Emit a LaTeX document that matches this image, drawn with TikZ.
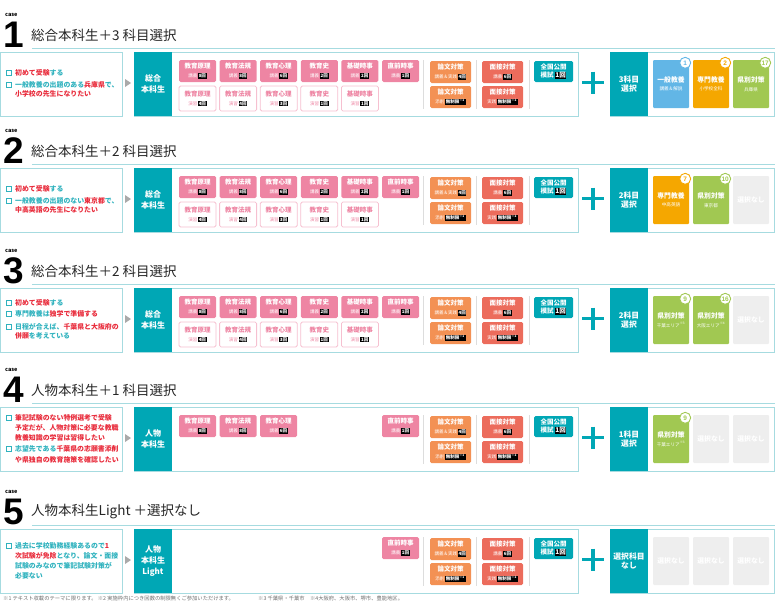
\documentclass[tikz,border=0pt]{standalone}
\usepackage{fontspec}
\setmainfont{Noto Sans CJK JP}
\newfontfamily\numfont{Liberation Sans}
\usetikzlibrary{calc}

\definecolor{brandteal}{RGB}{0,167,181}
\definecolor{lineteal}{RGB}{166,219,224}
\definecolor{pinkc}{RGB}{238,133,163}
\definecolor{palepink}{RGB}{246,192,208}
\definecolor{essayc}{RGB}{243,145,84}
\definecolor{talkc}{RGB}{236,108,92}
\definecolor{bluec}{RGB}{98,182,230}
\definecolor{goldc}{RGB}{245,167,0}
\definecolor{greenc}{RGB}{161,200,82}
\definecolor{nonec}{RGB}{238,238,238}
\definecolor{redc}{RGB}{232,42,58}
\definecolor{tealtxt}{RGB}{48,178,190}
\definecolor{tipgray}{RGB}{170,170,170}
\definecolor{sepgray}{RGB}{221,221,221}
\definecolor{notegray}{RGB}{110,110,110}

\setlength{\fboxsep}{0.7pt}
\newcommand{\cnt}[1]{\colorbox{black}{\textcolor{white}{\bfseries #1}}}
\newcommand{\subline}[2]{{\mdseries\fontsize{4.5}{5}\selectfont #1\,\cnt{#2}}}
\newcommand{\rd}[1]{\textcolor{redc}{#1}}

\tikzset{
  boxframe/.style={draw=lineteal, line width=1pt},
  panel/.style={fill=brandteal, text=white, minimum width=38pt, minimum height=64pt, inner sep=0pt, align=center, font=\bfseries\fontsize{8}{11}\selectfont},
  pickpanel/.style={panel, font=\bfseries\fontsize{7.8}{9.5}\selectfont},
  lec/.style={fill=pinkc, text=white, rounded corners=1.5pt, minimum width=37pt, minimum height=22pt, inner sep=0pt, align=center, font=\bfseries\fontsize{6.5}{9}\selectfont},
  prac/.style={lec, fill=white, draw=palepink, line width=0.8pt, text=pinkc, minimum height=25pt},
  essay/.style={lec, fill=essayc, minimum width=41pt},
  talk/.style={lec, fill=talkc, minimum width=41pt},
  mock/.style={lec, fill=brandteal, minimum width=39pt, minimum height=21pt, font=\bfseries\fontsize{6.5}{8}\selectfont},
  subj/.style={rounded corners=1pt, text=white, minimum width=36pt, minimum height=48pt, inner sep=0pt, align=center, font=\bfseries\fontsize{6.8}{8.5}\selectfont},
  numc/.style={circle, fill=white, draw=#1, text=#1, line width=0.9pt, minimum size=11pt, inner sep=0pt, font=\numfont\bfseries\fontsize{6.5}{6.5}\selectfont},
  plusbar/.style={draw=brandteal, line width=3.6pt},
  sepline/.style={draw=sepgray, line width=0.8pt},
  headline/.style={draw=lineteal, line width=1pt},
  casetag/.style={anchor=west, inner sep=0pt, font=\bfseries\fontsize{5.5}{6}\selectfont},
  casenum/.style={anchor=base west, inner sep=0pt, font=\numfont\bfseries\fontsize{37}{37}\selectfont},
  casetitle/.style={anchor=west, inner sep=0pt, text=black!85, font=\fontsize{13.5}{14}\selectfont},
  chk/.style={draw=tealtxt, line width=0.6pt},
  lefttxt/.style={anchor=west, inner sep=0pt, text=tealtxt, font=\bfseries\fontsize{6.9}{8}\selectfont},
  note/.style={anchor=west, inner sep=0pt, text=notegray, font=\fontsize{5.3}{6}\selectfont}
}

% heading of one case: digit, title
\newcommand{\casehead}[2]{%
  \node[casetag] (tag) at (5,-37) {case};
  \node[casenum] (num) at (3,-5) {#1};
  \node[casetitle] (title) at (31,-17) {#2};
  \draw[headline] (32,-4) -- (775,-4);
}
% frames, shared items, plus sign; #1 course, #2 choice
\newcommand{\caseframe}[2]{%
  \draw[boxframe] (0.5,0) rectangle (122,64);
  \fill[tipgray] (125,27) -- (131,31) -- (125,35) -- cycle;
  \draw[boxframe] (134,0) rectangle (578,64);
  \node[panel] (course) at (153,32) {#1};
  \foreach \x in {423,476,529} \draw[sepline] (\x,8) -- (\x,57);
  \node[lec] (just) at (400.5,19) {直前時事\\\subline{講義}{1回}};
  \node[essay] (ess1) at (450.5,20) {論文対策\\\subline{講義＆実践}{4回}};
  \node[essay] (ess2) at (450.5,45) {論文対策\\\subline{添削}{無制限\textsuperscript{※1}}};
  \node[talk] (int1) at (502.5,20) {面接対策\\\subline{講義}{6回}};
  \node[talk] (int2) at (502.5,45) {面接対策\\\subline{実践}{無制限\textsuperscript{※2}}};
  \node[mock] (mock) at (553.5,19.5) {全国公開\\模試\,\cnt{1回}};
  \draw[plusbar] (582,30.5) -- (604,30.5) (593,19.5) -- (593,41.5);
  \draw[boxframe] (610,0) rectangle (774,64);
  \node[pickpanel] (pick) at (629,32) {#2};
}
\newcommand{\lecrow}[1]{%
  \foreach \nm/\cnum [count=\i from 0] in {#1}
    \node[lec] (lec\i) at (197.5+40.6*\i,19) {\nm\\\subline{講義}{\cnum{}回}};
}
\newcommand{\pracrow}{%
  \foreach \nm/\cnum [count=\i from 0] in {教育原理/4,教育法規/4,教育心理/3,教育史/1,基礎時事/1}
    \node[prac] (prac\i) at (197.5+40.6*\i,46.5) {\nm\\\subline{演習}{\cnum{}回}};
}
\newcommand{\subject}[5]{%
  \node[subj, fill=#2] (s#1) at (#1,32) {#3\\{\mdseries\fontsize{4.6}{5}\selectfont #4}};
  \node[numc=#2] (n#1) at ($(s#1.north east)+(-4,3)$) {#5};
}
\newcommand{\nochoice}[1]{\node[subj, fill=nonec] (s#1) at (#1,32) {選択なし};}
\newcommand{\want}[2]{%
  \draw[chk] (6,#1-2.6) rectangle (11,#1+2.6);
  \node[lefttxt] (w#1) at (15,#1) {#2};
}
\newcommand{\wantmore}[2]{\node[lefttxt] (w#1) at (15,#1) {#2};}

\begin{document}
\begin{tikzpicture}[x=1pt, y=-1pt]
\useasboundingbox (0,0) rectangle (775,605);

% case 1
\begin{scope}[shift={(0,52)}]
  \casehead{1}{総合本科生＋3 科目選択}
  \caseframe{総合\\本科生}{3科目\\選択}
  \lecrow{教育原理/8,教育法規/8,教育心理/6,教育史/2,基礎時事/2}
  \pracrow
  \want{21}{\rd{初めて受験}する}
  \want{33}{一般教養の出題のある\rd{兵庫県}で、}
  \wantmore{42}{\rd{小学校の先生になりたい}}
  \subject{671}{bluec}{一般教養}{講義＆解説}{1}
  \subject{711}{goldc}{専門教養}{小学校全科}{2}
  \subject{751}{greenc}{県別対策}{兵庫県}{17}
\end{scope}

% case 2
\begin{scope}[shift={(0,168)}]
  \casehead{2}{総合本科生＋2 科目選択}
  \caseframe{総合\\本科生}{2科目\\選択}
  \lecrow{教育原理/8,教育法規/8,教育心理/6,教育史/2,基礎時事/2}
  \pracrow
  \want{21}{\rd{初めて受験}する}
  \want{33}{一般教養の出題のない\rd{東京都}で、}
  \wantmore{42}{\rd{中高英語の先生になりたい}}
  \subject{671}{goldc}{専門教養}{中高英語}{7}
  \subject{711}{greenc}{県別対策}{東京都}{10}
  \nochoice{751}
\end{scope}

% case 3
\begin{scope}[shift={(0,288)}]
  \casehead{3}{総合本科生＋2 科目選択}
  \caseframe{総合\\本科生}{2科目\\選択}
  \lecrow{教育原理/8,教育法規/8,教育心理/6,教育史/2,基礎時事/2}
  \pracrow
  \want{15}{\rd{初めて受験}する}
  \want{26}{専門教養は\rd{独学で準備する}}
  \want{39}{日程が合えば、\rd{千葉県と大阪府の}}
  \wantmore{48}{\rd{併願}を考えている}
  \subject{671}{greenc}{県別対策}{千葉エリア\textsuperscript{※3}}{9}
  \subject{711}{greenc}{県別対策}{大阪エリア\textsuperscript{※4}}{16}
  \nochoice{751}
\end{scope}

% case 4
\begin{scope}[shift={(0,407)}]
  \casehead{4}{人物本科生＋1 科目選択}
  \caseframe{人物\\本科生}{1科目\\選択}
  \lecrow{教育原理/8,教育法規/8,教育心理/6}
  \want{11}{\rd{筆記試験のない特例選考で受験}}
  \wantmore{21}{\rd{予定だが、人物対策に必要な教職}}
  \wantmore{31}{\rd{教養知識の学習は習得したい}}
  \want{42}{志望先である\rd{千葉県の志願書添削}}
  \wantmore{53}{\rd{や県独自の教育施策を確認したい}}
  \subject{671}{greenc}{県別対策}{千葉エリア\textsuperscript{※3}}{9}
  \nochoice{711}
  \nochoice{751}
\end{scope}

% case 5
\begin{scope}[shift={(0,529)}]
  \casehead{5}{人物本科生Light ＋選択なし}
  \caseframe{人物\\本科生\\Light}{選択科目\\なし}
  \want{17}{過去に学校勤務経験あるので\rd{1}}
  \wantmore{27}{\rd{次試験が免除}となり、論文・面接}
  \wantmore{37}{試験のみなので筆記試験対策が}
  \wantmore{47}{必要ない}
  \nochoice{671}
  \nochoice{711}
  \nochoice{751}
\end{scope}

\node[note] (note1) at (3,598) {※1 テキスト収載のテーマに限ります。 ※2 実施枠内につき回数の制限無くご参加いただけます。};
\node[note] (note2) at (258,598) {※3 千葉県・千葉市　※4大阪府、大阪市、堺市、豊能地区。};
\end{tikzpicture}
\end{document}
